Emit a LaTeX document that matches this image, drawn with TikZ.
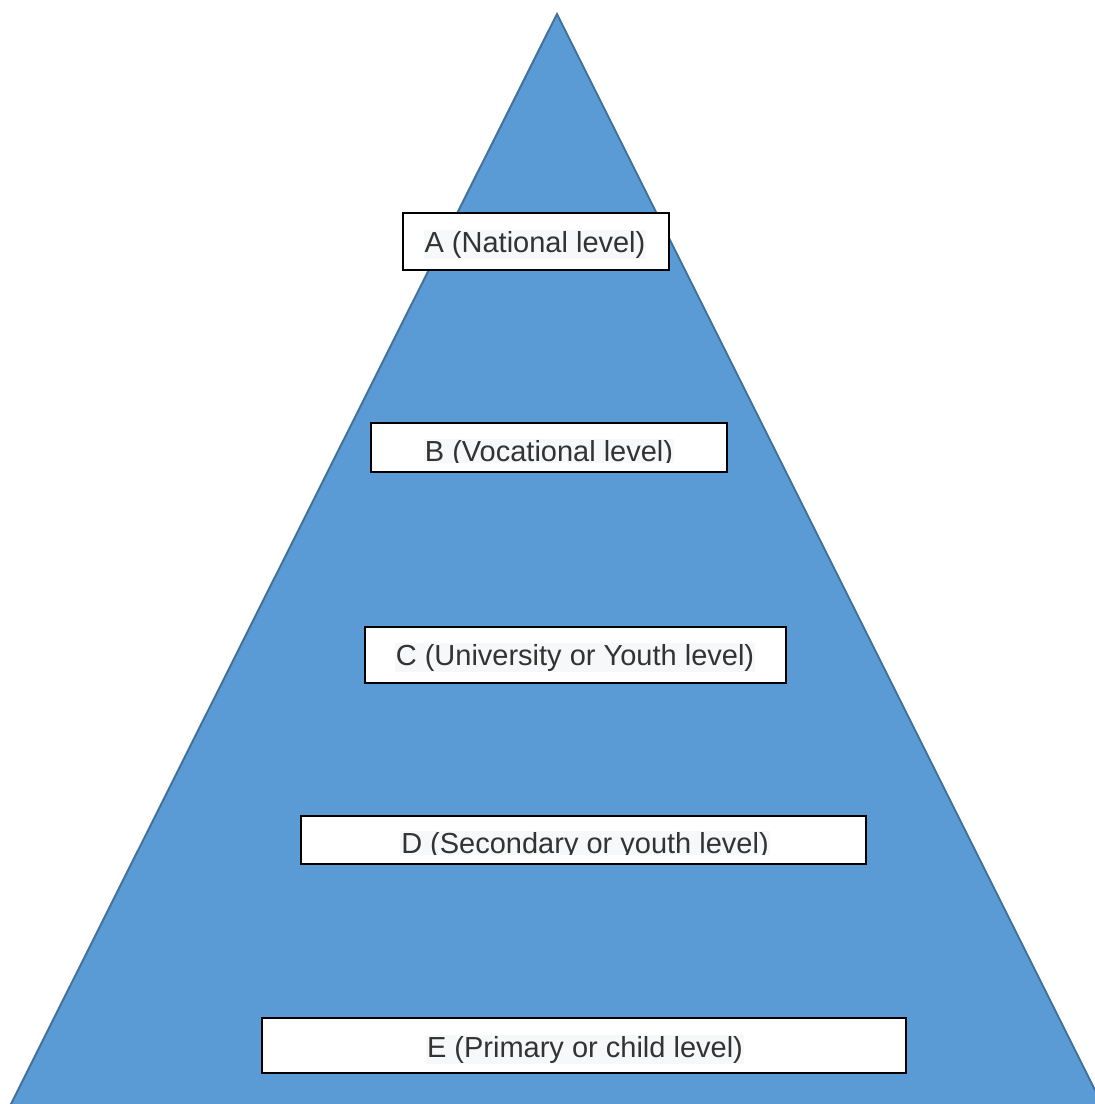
\documentclass[tikz,border=0pt]{standalone}
\usepackage{fontspec}
\setmainfont{Liberation Sans}
\usepackage{tikz}

\begin{document}
\begin{tikzpicture}[x=1pt,y=-1pt]
    \definecolor{fillblue}{RGB}{91,155,213}   % Relleno
    \definecolor{edgeblue}{RGB}{65,113,156}   % Borde
    \definecolor{hilite}{RGB}{247,248,250}    % Fondo texto
    \definecolor{ink}{RGB}{51,51,51}          % Texto
    \tikzset{
      lvlbox/.style={draw=black, line width=1.3pt, fill=white, inner sep=0pt},
      lvltext/.style={fill=hilite, text=ink, inner sep=1pt, font=\fontsize{29}{34}\selectfont}
    }

    \useasboundingbox (0,0) rectangle (1095,1104);
    \clip (0,0) rectangle (1095,1104);

    \coordinate (top) at (557,14);
    \coordinate (bl) at (9,1108);
    \coordinate (br) at (1104,1108);
    \draw[fill=fillblue, draw=edgeblue, line width=2pt, line join=miter] (top) -- (bl) -- (br) -- cycle;

    \node (A) at (536,241.5) [lvlbox, minimum width=266pt, minimum height=57pt] {};
    \node (B) at (549,447.5) [lvlbox, minimum width=356pt, minimum height=49pt] {};
    \node (C) at (575.5,655) [lvlbox, minimum width=421pt, minimum height=56pt] {};
    \node (D) at (583.5,840) [lvlbox, minimum width=565pt, minimum height=48pt] {};
    \node (E) at (584,1045.5) [lvlbox, minimum width=644pt, minimum height=55pt] {};

    \node (tA) at (535,252) [lvltext, anchor=base] {A (National level)};
    \begin{scope}
      \clip (371,423) rectangle (727,462);
      \node (tB) at (549,461) [lvltext, anchor=base] {B (Vocational level)};
    \end{scope}
    \node (tC) at (575,665) [lvltext, anchor=base] {C (University or Youth level)};
    \begin{scope}
      \clip (301,816) rectangle (866,854);
      \node (tD) at (585,853) [lvltext, anchor=base] {D (Secondary or youth level)};
    \end{scope}
    \node (tE) at (585,1057) [lvltext, anchor=base] {E (Primary or child level)};
  \end{tikzpicture}
\end{document}
